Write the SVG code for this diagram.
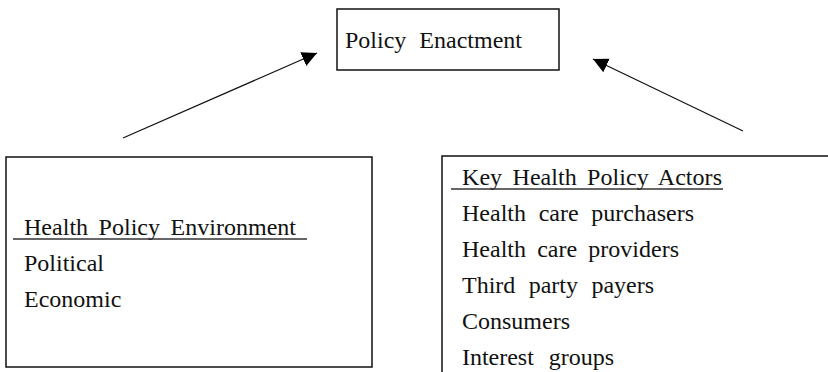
<svg xmlns="http://www.w3.org/2000/svg" width="828" height="372" viewBox="0 0 828 372">
<style>
  text { font-family: "Liberation Serif", "Times New Roman", serif; font-size: 24px; fill: #111; }
  .box { fill: #fff; stroke: #111; stroke-width: 1.5; }
  .edge { fill: none; stroke: #111; stroke-width: 1.5; }
  .ul { stroke: #333; stroke-width: 1.3; }
  .conn { stroke: #111; stroke-width: 1.2; fill: none; }
</style>
<defs>
  <marker id="arrow" markerUnits="userSpaceOnUse" markerWidth="16" markerHeight="16" refX="15" refY="7.5" orient="auto">
    <path d="M0,0 L15,7.5 L0,15 Z" fill="#000"/>
  </marker>
</defs>
<rect width="828" height="372" fill="#fff"/>
<g id="policy-enactment">
  <rect class="box" x="337" y="9" width="222" height="61"/>
  <text x="345" y="48" word-spacing="7" textLength="177" lengthAdjust="spacing">Policy Enactment</text>
</g>
<g id="health-policy-environment">
  <rect class="box" x="6" y="157" width="366" height="210"/>
  <text x="24" y="235" word-spacing="4.5" textLength="272" lengthAdjust="spacing">Health Policy Environment</text>
  <line class="ul" x1="13" y1="239" x2="307" y2="239"/>
  <text x="24" y="271">Political</text>
  <text x="24" y="307">Economic</text>
</g>
<g id="key-health-policy-actors">
  <path class="edge" d="M828,156 L442,156 L442,372"/>
  <text x="462" y="185" word-spacing="4.3" textLength="260" lengthAdjust="spacing">Key Health Policy Actors</text>
  <line class="ul" x1="451" y1="189" x2="723" y2="189"/>
  <text x="462" y="221" word-spacing="6.7" textLength="232" lengthAdjust="spacing">Health care purchasers</text>
  <text x="462" y="257" word-spacing="5.2" textLength="217" lengthAdjust="spacing">Health care providers</text>
  <text x="462" y="293" word-spacing="7.5" textLength="192" lengthAdjust="spacing">Third party payers</text>
  <text x="462" y="329">Consumers</text>
  <text x="462" y="365" word-spacing="9" textLength="152" lengthAdjust="spacing">Interest groups</text>
</g>
<g id="connectors">
  <line class="conn" x1="123" y1="138" x2="317" y2="53" marker-end="url(#arrow)"/>
  <line class="conn" x1="743" y1="131" x2="593" y2="59" marker-end="url(#arrow)"/>
</g>
</svg>
